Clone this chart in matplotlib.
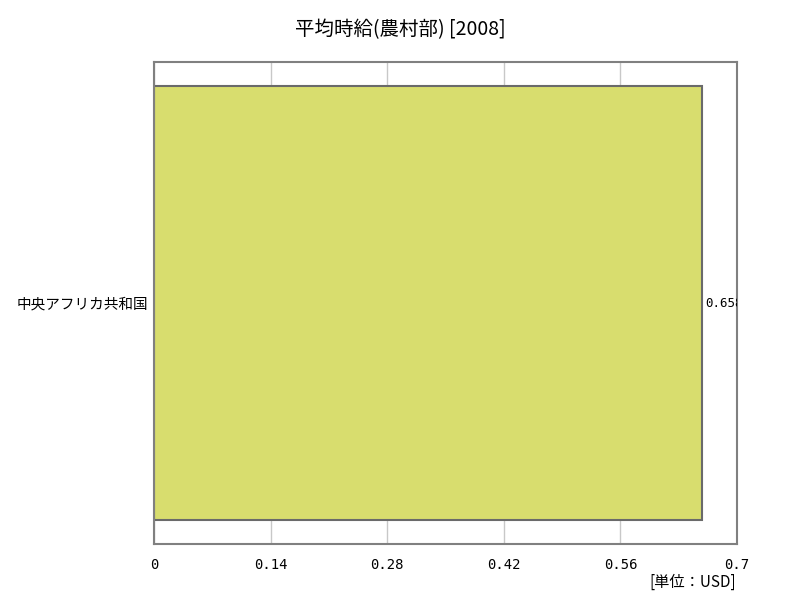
import matplotlib
matplotlib.use("Agg")
import matplotlib.pyplot as plt

plt.rcParams['font.family'] = ['Noto Sans CJK JP', 'DejaVu Sans']

countries = ["中央アフリカ共和国"]
values = [0.658]
xticks = [0, 0.14, 0.28, 0.42, 0.56, 0.7]
title = "平均時給(農村部) [2008]"
unit = "[単位：USD]"

fig = plt.figure(figsize=(8, 6), dpi=100)
ax = fig.add_axes([0.1925, 0.0933, 0.72875, 0.8033])

ax.barh(range(len(values)), values, height=0.9, color="#d8dd6e",
        edgecolor="#6a6a6a", linewidth=1.5, zorder=2)
for i, v in enumerate(values):
    ax.text(v + 0.004, i, f"{v:g}", va="center", ha="left", fontsize=9,
            family=['DejaVu Sans Mono'], clip_on=True, zorder=3)

ax.set_xlim(0, 0.7)
ax.set_ylim(-0.5, len(values) - 0.5)
ax.set_xticks(xticks)
ax.set_xticklabels([f"{t:g}" for t in xticks], family=['DejaVu Sans Mono'],
                   fontsize=10)
ax.set_yticks(range(len(values)))
ax.set_yticklabels(countries, fontsize=10.5)
ax.tick_params(axis="x", length=0, pad=10)
ax.tick_params(axis="y", length=0, pad=4)
ax.xaxis.grid(True, color="#c8c8c8", linewidth=1, zorder=0)
ax.set_axisbelow(True)
for s in ax.spines.values():
    s.set_color("#808080")
    s.set_linewidth(1.5)

fig.text(0.5, 0.951, title, ha="center", va="center", fontsize=14)
fig.text(0.92, 0.03, unit, ha="right", va="center", fontsize=11)

fig.savefig("out.png", dpi=100)
